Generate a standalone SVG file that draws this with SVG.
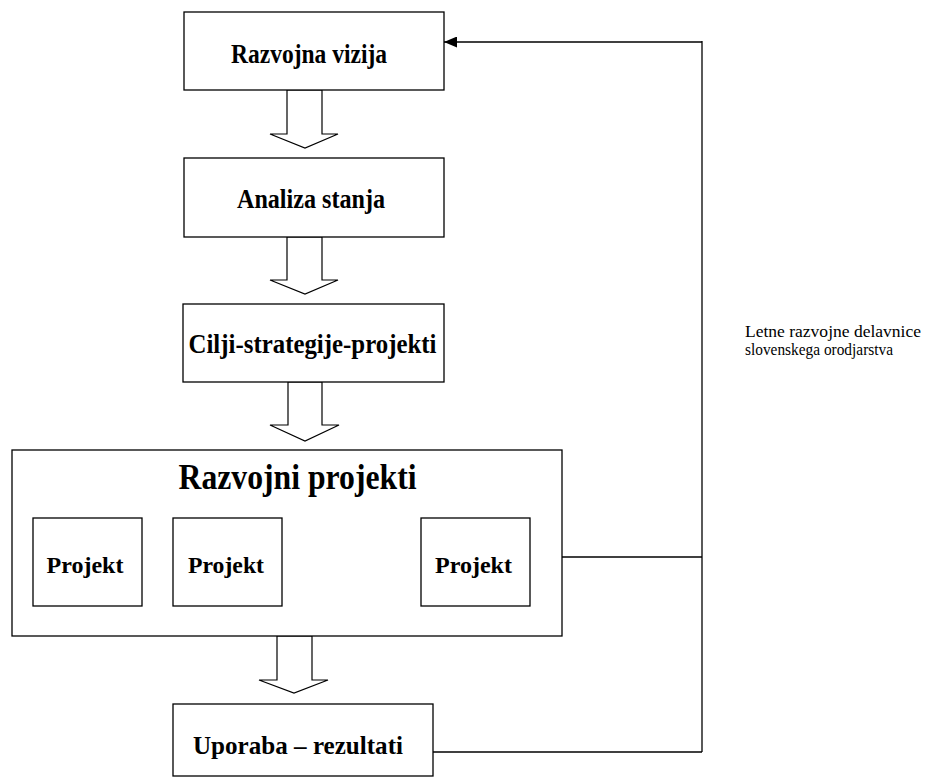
<svg xmlns="http://www.w3.org/2000/svg" width="928" height="778" viewBox="0 0 928 778">
<defs>
<style>
.box{fill:#fff;stroke:#000;stroke-width:1.3}
.ha{fill:#fff;stroke:#000;stroke-width:1.2;stroke-linejoin:miter}
.t{font-weight:bold;fill:#000;text-anchor:middle}
.lbl{fill:#000}
.ln{fill:none;stroke:#000;stroke-width:1.3}
</style>
<marker id="ah" viewBox="0 0 13 11" refX="13" refY="5.5" markerWidth="13" markerHeight="11" markerUnits="userSpaceOnUse" orient="auto">
<path d="M0,0 L13,5.5 L0,11 Z" fill="#000"/>
</marker>
</defs>
<rect width="928" height="778" fill="#fff"/>
<g id="connectors">
<polygon class="ha" points="287,90 322,90 322,134 338,134 305,148 270,134 287,134"/>
<polygon class="ha" points="287,237 322,237 322,280 338,280 305,294 270,280 287,280"/>
<polygon class="ha" points="288,382 322,382 322,425 339,425 305,441 270,425 288,425"/>
<polygon class="ha" points="277,636 312,636 312,680 328,680 294,693 259,680 277,680"/>
<line class="ln" x1="562" y1="557" x2="702" y2="557"/>
<line class="ln" x1="433" y1="752" x2="702" y2="752"/>
<line class="ln" x1="702" y1="752" x2="702" y2="41"/>
<line class="ln" x1="702" y1="42" x2="444" y2="42" marker-end="url(#ah)"/>
</g>
<g font-family="Liberation Serif, Times New Roman, serif">
<g id="razvojna-vizija">
<rect class="box" x="184" y="12" width="260" height="78"/>
<text class="t" x="309" y="63" font-size="28" textLength="156" lengthAdjust="spacingAndGlyphs">Razvojna vizija</text>
</g>
<g id="analiza-stanja">
<rect class="box" x="184" y="158" width="260" height="79"/>
<text class="t" x="311" y="208" font-size="28" textLength="148" lengthAdjust="spacingAndGlyphs">Analiza stanja</text>
</g>
<g id="cilji">
<rect class="box" x="183" y="304" width="261" height="78"/>
<text class="t" x="312.5" y="353" font-size="28" textLength="248" lengthAdjust="spacingAndGlyphs">Cilji-strategije-projekti</text>
</g>
<g id="razvojni-projekti">
<rect class="box" x="12" y="450" width="550" height="186"/>
<text class="t" x="297.5" y="489" font-size="35" textLength="238" lengthAdjust="spacingAndGlyphs">Razvojni projekti</text>
</g>
<g id="projekt-1">
<rect class="box" x="33" y="518" width="109" height="88"/>
<text class="t" x="85" y="573" font-size="24" textLength="77" lengthAdjust="spacingAndGlyphs">Projekt</text>
</g>
<g id="projekt-2">
<rect class="box" x="173" y="518" width="109" height="88"/>
<text class="t" x="226" y="573" font-size="24" textLength="76" lengthAdjust="spacingAndGlyphs">Projekt</text>
</g>
<g id="projekt-3">
<rect class="box" x="421" y="518" width="109" height="88"/>
<text class="t" x="473.5" y="573" font-size="24" textLength="77" lengthAdjust="spacingAndGlyphs">Projekt</text>
</g>
<g id="uporaba">
<rect class="box" x="173" y="704" width="260" height="72"/>
<text class="t" x="298" y="754" font-size="26" textLength="210" lengthAdjust="spacingAndGlyphs">Uporaba – rezultati</text>
</g>
<g id="label">
<text class="lbl" x="745" y="337" font-size="17" textLength="176" lengthAdjust="spacingAndGlyphs">Letne razvojne delavnice</text>
<text class="lbl" x="745" y="355" font-size="17" textLength="148" lengthAdjust="spacingAndGlyphs">slovenskega orodjarstva</text>
</g>
</g>
</svg>
